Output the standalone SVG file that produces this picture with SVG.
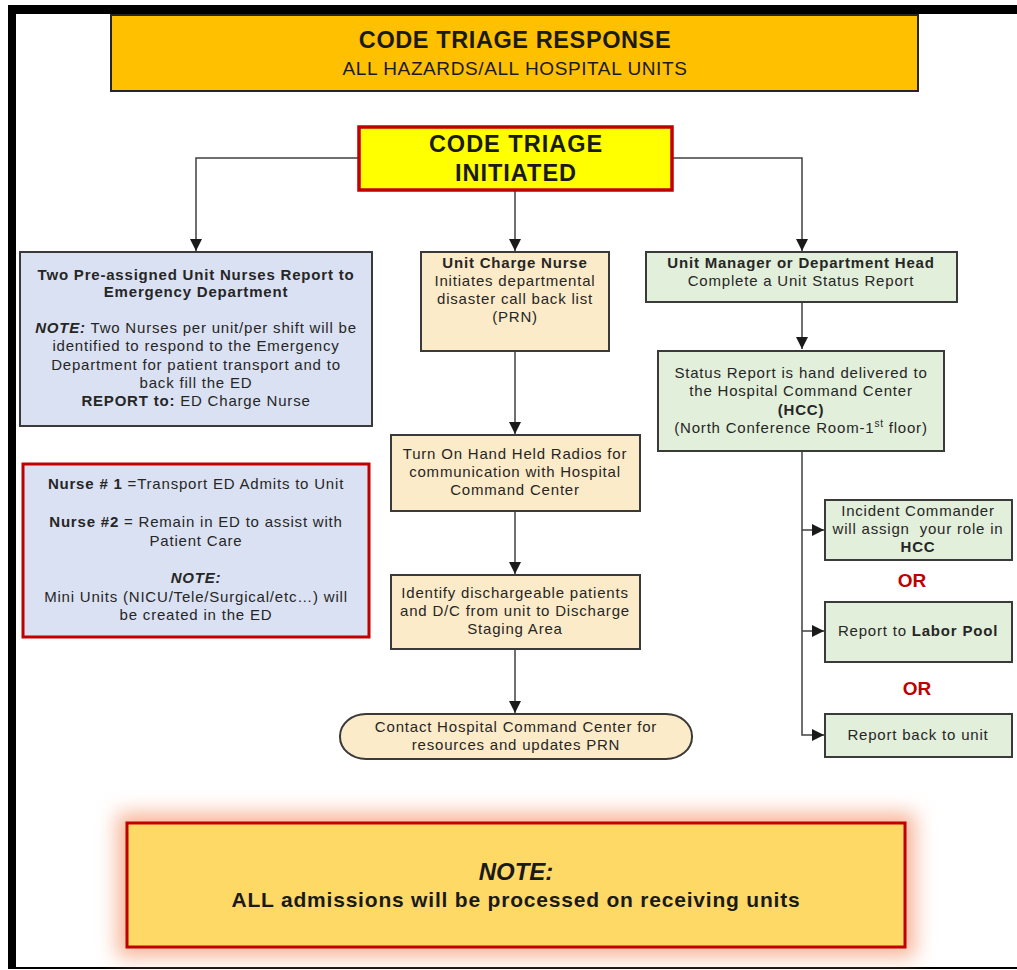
<svg xmlns="http://www.w3.org/2000/svg" width="1017" height="970" viewBox="0 0 1017 970">
<style>
.t{font-family:"Liberation Sans",Arial,sans-serif;font-size:15px;letter-spacing:0.8px;fill:#262626;text-anchor:middle}
.b{font-weight:bold}
.bi{font-weight:bold;font-style:italic}
.box{stroke:#3a3a3a;stroke-width:2}
.blue{fill:#DAE1F2}
.org{fill:#FCEBC8}
.grn{fill:#E2EFDA}
.or{font-family:"Liberation Sans",Arial,sans-serif;font-size:19px;font-weight:bold;fill:#C00000;text-anchor:middle}
.c{fill:none;stroke:#404040;stroke-width:1.5}
.hd{font-family:"Liberation Sans",Arial,sans-serif;fill:#1a1a1a;text-anchor:middle}
</style>
<defs>
<marker id="ah" markerUnits="userSpaceOnUse" markerWidth="12" markerHeight="12" refX="10" refY="5" viewBox="0 0 10 10" orient="auto">
<path d="M0,0 L10,5 L0,10 z" fill="#1a1a1a"/>
</marker>
<filter id="glow" x="-10%" y="-40%" width="120%" height="180%">
<feGaussianBlur stdDeviation="10"/>
</filter>
</defs>
<rect x="0" y="0" width="1017" height="970" fill="#ffffff"/>
<!-- frame -->
<rect x="8" y="5" width="1009" height="9" fill="#000"/>
<rect x="8" y="5" width="8" height="964" fill="#000"/>
<rect x="16" y="967" width="1001" height="2" fill="#000"/>

<g id="title">
<rect x="111" y="15" width="807" height="76" fill="#FFC000" stroke="#262626" stroke-width="2"/>
<text class="hd" x="515" y="48" style="font-size:23.5px;font-weight:bold;letter-spacing:0.6px">CODE TRIAGE RESPONSE</text>
<text class="hd" x="515" y="75" style="font-size:19px;letter-spacing:0.6px">ALL HAZARDS/ALL HOSPITAL UNITS</text>
</g>

<g id="connectors">
<path class="c" d="M358,158 H196 V251" marker-end="url(#ah)"/>
<path class="c" d="M673,158 H802 V251" marker-end="url(#ah)"/>
<path class="c" d="M515,191 V251" marker-end="url(#ah)"/>
<path class="c" d="M515,351 V434" marker-end="url(#ah)"/>
<path class="c" d="M515,511 V574" marker-end="url(#ah)"/>
<path class="c" d="M515,649 V713" marker-end="url(#ah)"/>
<path class="c" d="M802,302 V349" marker-end="url(#ah)"/>
<path class="c" d="M802,451 V735 H824" marker-end="url(#ah)"/>
<path class="c" d="M802,530 H824" marker-end="url(#ah)"/>
<path class="c" d="M802,631 H824" marker-end="url(#ah)"/>
</g>

<g id="code-triage-initiated">
<rect x="359" y="127" width="313" height="63" fill="#FFFF00" stroke="#C00000" stroke-width="3.5"/>
<text class="hd" x="516" y="152" style="font-size:23.5px;font-weight:bold;letter-spacing:1px">CODE TRIAGE</text>
<text class="hd" x="516" y="181" style="font-size:23.5px;font-weight:bold;letter-spacing:1px">INITIATED</text>
</g>

<g id="two-nurses">
<rect class="box blue" x="20" y="252" width="352" height="174"/>
<text class="t b" x="196" y="280">Two Pre-assigned Unit Nurses Report to</text>
<text class="t b" x="196" y="297">Emergency Department</text>
<text class="t" x="196" y="333"><tspan class="bi">NOTE:</tspan> Two Nurses per unit/per shift will be</text>
<text class="t" x="196" y="351">identified to respond to the Emergency</text>
<text class="t" x="196" y="370">Department for patient transport and to</text>
<text class="t" x="196" y="388">back fill the ED</text>
<text class="t" x="196" y="406"><tspan class="b">REPORT to:</tspan> ED Charge Nurse</text>
</g>

<g id="nurse-roles">
<rect class="blue" x="23" y="464" width="346" height="173" stroke="#C00000" stroke-width="3"/>
<text class="t" x="196" y="489"><tspan class="b">Nurse # 1</tspan> =Transport ED Admits to Unit</text>
<text class="t" x="196" y="527"><tspan class="b">Nurse #2</tspan> = Remain in ED to assist with</text>
<text class="t" x="196" y="546">Patient Care</text>
<text class="t bi" x="196" y="583">NOTE:</text>
<text class="t" x="196" y="602">Mini Units (NICU/Tele/Surgical/etc…) will</text>
<text class="t" x="196" y="620">be created in the ED</text>
</g>

<g id="unit-charge-nurse">
<rect class="box org" x="421" y="252" width="188" height="99"/>
<text class="t b" x="515" y="268">Unit Charge Nurse</text>
<text class="t" x="515" y="286">Initiates departmental</text>
<text class="t" x="515" y="304">disaster call back list</text>
<text class="t" x="515" y="322">(PRN)</text>
</g>

<g id="radios">
<rect class="box org" x="391" y="435" width="249" height="76"/>
<text class="t" x="515" y="459">Turn On Hand Held Radios for</text>
<text class="t" x="515" y="477">communication with Hospital</text>
<text class="t" x="515" y="495">Command Center</text>
</g>

<g id="discharge">
<rect class="box org" x="391" y="575" width="249" height="74"/>
<text class="t" x="515" y="598">Identify dischargeable patients</text>
<text class="t" x="515" y="616">and D/C from unit to Discharge</text>
<text class="t" x="515" y="634">Staging Area</text>
</g>

<g id="contact-hcc">
<rect class="box org" x="340" y="714" width="352" height="45" rx="26" ry="22"/>
<text class="t" x="516" y="732">Contact Hospital Command Center for</text>
<text class="t" x="516" y="750">resources and updates PRN</text>
</g>

<g id="unit-manager">
<rect class="box grn" x="646" y="252" width="311" height="50"/>
<text class="t b" x="801" y="268">Unit Manager or Department Head</text>
<text class="t" x="801" y="286">Complete a Unit Status Report</text>
</g>

<g id="status-report">
<rect class="box grn" x="658" y="351" width="286" height="100"/>
<text class="t" x="801" y="378">Status Report is hand delivered to</text>
<text class="t" x="801" y="396">the Hospital Command Center</text>
<text class="t b" x="801" y="415">(HCC)</text>
<text class="t" x="801" y="433">(North Conference Room-1<tspan font-size="10px" dy="-6">st</tspan><tspan dy="6"> floor)</tspan></text>
</g>

<g id="incident-commander">
<rect class="box grn" x="825" y="500" width="187" height="60"/>
<text class="t" x="918" y="516">Incident Commander</text>
<text class="t" x="918" y="534" style="white-space:pre">will assign  your role in</text>
<text class="t b" x="918" y="552">HCC</text>
</g>

<text class="or" x="912" y="587">OR</text>

<g id="labor-pool">
<rect class="box grn" x="825" y="602" width="187" height="60"/>
<text class="t" x="918" y="636">Report to <tspan class="b">Labor Pool</tspan></text>
</g>

<text class="or" x="917" y="695">OR</text>

<g id="report-back">
<rect class="box grn" x="825" y="714" width="187" height="43"/>
<text class="t" x="918" y="740">Report back to unit</text>
</g>

<g id="bottom-note">
<rect x="117" y="813" width="798" height="144" fill="#F7B496" filter="url(#glow)"/>
<rect x="127" y="823" width="778" height="124" fill="#FFD966" stroke="#C00000" stroke-width="3"/>
<text class="hd" x="516" y="880" style="font-size:24px;font-weight:bold;font-style:italic">NOTE:</text>
<text class="hd" x="516" y="907" style="font-size:21px;font-weight:bold;letter-spacing:0.8px">ALL admissions will be processed on receiving units</text>
</g>
</svg>
